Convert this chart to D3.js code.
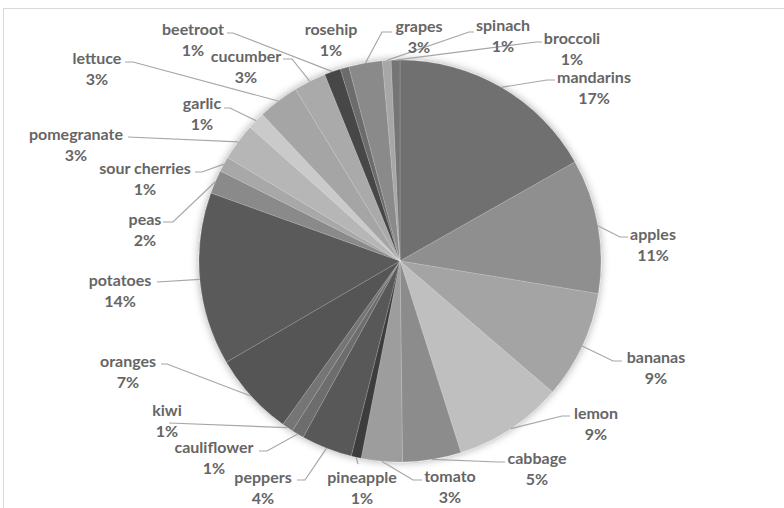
<!DOCTYPE html>
<html>
<head>
<meta charset="utf-8">
<script src="https://cdn.jsdelivr.net/npm/d3@7"></script>
<style>
  html, body { margin: 0; padding: 0; background: #ffffff; }
  svg { display: block; }
  .lbl { font-family: Lato, "Open Sans", sans-serif; font-weight: 700; font-size: 16px; fill: #666666; }
</style>
</head>
<body>
<svg id="chart" width="784" height="508"></svg>
<script>
// Produce categories, clockwise from 12 o'clock
const categories = ["mandarins", "apples", "bananas", "lemon", "cabbage", "tomato", "pineapple",
  "peppers", "cauliflower", "kiwi", "oranges", "potatoes", "peas", "sour cherries", "pomegranate",
  "garlic", "lettuce", "cucumber", "beetroot", "rosehip", "grapes", "spinach", "broccoli"];

// Share of each item
const values = [16.8, 10.8, 8.7, 8.8, 4.7, 3.3, 0.8,
  4.1, 1.0, 0.9, 6.7, 13.9, 1.9, 1.2, 3.0,
  1.4, 3.3, 2.6, 1.3, 0.7, 2.7, 0.7, 0.7];

// Grey fills per slice
const fills = ["#6f6f6f", "#8f8f8f", "#a4a4a4", "#bfbfbf", "#8c8c8c", "#9d9d9d", "#3c3c3c",
  "#595959", "#6d6d6d", "#747474", "#555555", "#5a5a5a", "#8a8a8a", "#a8a8a8", "#b6b6b6",
  "#cacaca", "#a5a5a5", "#aaaaaa", "#464646", "#6c6c6c", "#8a8a8a", "#a7a7a7", "#747474"];

// Label placement: centre of the name line, and where the leader line meets the label
const labelLayout = {
  "mandarins":     { x: 594, y: 76,  ax: 555, ay: 80,  elbow: 8 },
  "apples":        { x: 653, y: 233, ax: 628, ay: 237, elbow: 8 },
  "bananas":       { x: 656, y: 356, ax: 622, ay: 361, elbow: 9 },
  "lemon":         { x: 596, y: 412, ax: 570, ay: 416, elbow: 8 },
  "cabbage":       { x: 537, y: 457, ax: 505, ay: 462, elbow: 7 },
  "tomato":        { x: 450, y: 475, ax: 422, ay: 480, elbow: 9 },
  "pineapple":     { x: 362, y: 476, ax: 358, ay: 464, elbow: 0 },
  "peppers":       { x: 263, y: 476, ax: 297, ay: 480, elbow: 8 },
  "cauliflower":   { x: 214, y: 446, ax: 259, ay: 451, elbow: 8 },
  "kiwi":          { x: 167, y: 409, ax: 169, ay: 423, elbow: 0 },
  "oranges":       { x: 128, y: 360, ax: 161, ay: 364, elbow: 6 },
  "potatoes":      { x: 120, y: 279, ax: 157, ay: 282, elbow: 0 },
  "peas":          { x: 145, y: 218, ax: 163, ay: 222, elbow: 10 },
  "sour cherries": { x: 145, y: 167, ax: 195, ay: 172, elbow: 7 },
  "pomegranate":   { x: 76,  y: 133, ax: 128, ay: 137, elbow: 0 },
  "garlic":        { x: 202, y: 102, ax: 224, ay: 108, elbow: 6 },
  "lettuce":       { x: 97,  y: 57,  ax: 125, ay: 62,  elbow: 8 },
  "cucumber":      { x: 246, y: 55,  ax: 283, ay: 59,  elbow: 9 },
  "beetroot":      { x: 193, y: 28,  ax: 227, ay: 33,  elbow: 6 },
  "rosehip":       { x: 331, y: 28,  ax: null },
  "grapes":        { x: 419, y: 25,  ax: 392, ay: 32,  elbow: 10 },
  "spinach":       { x: 503, y: 24,  ax: 474, ay: 32,  elbow: 5 },
  "broccoli":      { x: 572, y: 37,  ax: 542, ay: 42,  elbow: 6 }
};

const svg = d3.select("#chart");
const cx = 400, cy = 261, radius = 201;
const lineGap = 21;

// Chart area frame
svg.append("rect")
  .attr("x", 3.5).attr("y", 8.5)
  .attr("width", 800).attr("height", 520)
  .attr("fill", "#ffffff")
  .attr("stroke", "#d9d9d9").attr("stroke-width", 1);

// Soft shadow around the pie
const defs = svg.append("defs");
const glow = defs.append("filter").attr("id", "pieShadow")
  .attr("x", "-20%").attr("y", "-20%").attr("width", "140%").attr("height", "140%");
glow.append("feDropShadow")
  .attr("dx", 0).attr("dy", 0).attr("stdDeviation", 4)
  .attr("flood-color", "#000000").attr("flood-opacity", 0.35);

const data = categories.map((c, i) => ({ name: c, value: values[i], fill: fills[i] }));
const total = d3.sum(values);

const pie = d3.pie().sort(null).value(d => d.value).startAngle(0).endAngle(2 * Math.PI);
const arcs = pie(data);
const arc = d3.arc().innerRadius(0).outerRadius(radius);
const rim = d3.arc().innerRadius(radius).outerRadius(radius);

const g = svg.append("g").attr("transform", `translate(${cx},${cy})`);

g.append("g").attr("filter", "url(#pieShadow)")
  .selectAll("path")
  .data(arcs)
  .join("path")
  .attr("d", arc)
  .attr("fill", d => d.data.fill)
  .attr("stroke", "rgba(255,255,255,0.25)")
  .attr("stroke-width", 0.6);

// Leader lines
const lines = svg.append("g");
arcs.forEach(d => {
  const L = labelLayout[d.data.name];
  if (L.ax == null) return;
  const p = rim.centroid(d);
  const px = cx + p[0], py = cy + p[1];
  const dir = L.ax > px ? -1 : 1;
  const pts = [[px, py]];
  if (L.elbow) pts.push([L.ax + dir * L.elbow, L.ay]);
  pts.push([L.ax, L.ay]);
  lines.append("path")
    .attr("d", d3.line()(pts))
    .attr("fill", "none")
    .attr("stroke", "#a6a6a6")
    .attr("stroke-width", 1.2);
});

// Data labels: name and rounded share
const pct = v => Math.round(v / total * 100) + "%";
const labels = svg.append("g");
arcs.forEach(d => {
  const L = labelLayout[d.data.name];
  const t = labels.append("g").attr("transform", `translate(${L.x},${L.y})`);
  t.append("text").attr("class", "lbl")
    .attr("text-anchor", "middle").attr("dominant-baseline", "central")
    .text(d.data.name);
  t.append("text").attr("class", "lbl")
    .attr("text-anchor", "middle").attr("dominant-baseline", "central")
    .attr("y", lineGap)
    .text(pct(d.data.value));
});
</script>
</body>
</html>
